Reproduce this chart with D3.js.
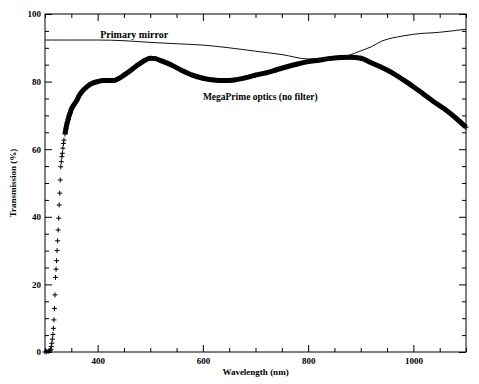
<!DOCTYPE html>
<html>
<head>
<meta charset="utf-8">
<script src="https://cdn.jsdelivr.net/npm/d3@7"></script>
<style>
  body { margin: 0; background: #fff; }
  text { font-family: "Liberation Serif", serif; font-weight: bold; fill: #000; }
</style>
</head>
<body>
<div id="chart"></div>
<script>
// MegaPrime optics (no filter), plotted with "+" symbols
const megaWavelength = [300, 303, 306, 308, 310,
  311, 312, 313, 314, 315, 316, 317, 318, 319, 320, 321, 322, 323, 324, 325,
  326, 327, 328, 329, 330, 331, 332, 333, 334, 335,
  336, 338, 340, 342, 344, 346, 348, 350, 352, 355, 360, 365, 370, 380, 390,
  400, 410, 420, 430, 440, 450, 460, 470, 480, 490, 500, 510, 520, 540, 560, 580,
  600, 620, 640, 660, 680, 700, 720, 740, 760, 780, 800, 820, 840, 860, 880,
  900, 920, 940, 960, 980, 1000, 1020, 1040, 1060, 1080, 1100];
const megaTransmission = [0.0, 0.1, 0.2, 0.35, 0.5,
  0.8, 1.6, 2.6, 3.8, 5.2, 7.0, 9.5, 12.9, 16.9, 22.1, 24.5, 27.0, 30.0, 32.9, 36.1,
  39.6, 43.5, 47.0, 50.9, 54.8, 56.3, 57.8, 58.8, 60.3, 61.7,
  62.7, 64.5, 66.2, 67.7, 68.8, 70.0, 70.8, 71.8, 72.4, 73.2, 74.3, 75.9, 77.0, 78.5, 79.5,
  80.0, 80.3, 80.3, 80.3, 80.9, 81.9, 83.0, 84.2, 85.3, 86.3, 86.9, 86.8, 86.2, 84.9, 83.3, 81.9,
  81.0, 80.5, 80.3, 80.5, 81.1, 81.9, 82.6, 83.5, 84.4, 85.2, 85.9, 86.3, 86.8, 87.1, 87.2,
  86.9, 85.6, 84.2, 82.6, 80.6, 78.5, 76.2, 73.9, 71.8, 69.3, 66.5];

// Primary mirror
const mirrorWavelength = [300, 350, 400, 450, 500, 550, 600, 650, 700, 750, 800, 850,
  880, 900, 920, 940, 960, 980, 1000, 1050, 1100];
const mirrorTransmission = [92.3, 92.3, 92.3, 92.1, 91.6, 91.2, 90.8, 90.0, 89.0, 88.0, 86.7, 86.9,
  87.9, 89.1, 90.3, 92.0, 92.9, 93.5, 94.0, 94.6, 95.5];

const xMajor = [400, 600, 800, 1000];
const yMajor = [0, 20, 40, 60, 80, 100];

const margin = {top: 14, right: 13, bottom: 32, left: 45};
const width = 479 - margin.left - margin.right;
const height = 384 - margin.top - margin.bottom;

const svg = d3.select("#chart")
  .append("svg")
  .attr("width", 479)
  .attr("height", 384)
  .append("g")
  .attr("transform", `translate(${margin.left},${margin.top})`);

const x = d3.scaleLinear().domain([300, 1100]).range([0, width]);
const y = d3.scaleLinear().domain([0, 100]).range([height, 0]);

const xMinor = d3.range(300, 1101, 50).filter(d => !xMajor.includes(d));
const yMinor = d3.range(0, 101, 5).filter(d => !yMajor.includes(d));

function clean(g) {
  g.select(".domain").remove();
  g.selectAll("line").attr("stroke", "#000");
}

// bottom
svg.append("g").attr("transform", `translate(0,${height})`)
  .call(d3.axisBottom(x).tickValues(xMajor).tickSize(-7).tickPadding(6).tickFormat(d3.format("d")))
  .call(clean)
  .selectAll("text").style("font-size", "9px");
svg.append("g").attr("transform", `translate(0,${height})`)
  .call(d3.axisBottom(x).tickValues(xMinor).tickSize(-4).tickFormat(""))
  .call(clean);
// top
svg.append("g")
  .call(d3.axisTop(x).tickValues(xMajor).tickSize(-7).tickFormat(""))
  .call(clean);
svg.append("g")
  .call(d3.axisTop(x).tickValues(xMinor).tickSize(-4).tickFormat(""))
  .call(clean);
// left
svg.append("g")
  .call(d3.axisLeft(y).tickValues(yMajor).tickSize(-7).tickPadding(4).tickFormat(d3.format("d")))
  .call(clean)
  .selectAll("text").style("font-size", "9px");
svg.append("g")
  .call(d3.axisLeft(y).tickValues(yMinor).tickSize(-4).tickFormat(""))
  .call(clean);
// right
svg.append("g").attr("transform", `translate(${width},0)`)
  .call(d3.axisRight(y).tickValues(yMajor).tickSize(-7).tickFormat(""))
  .call(clean);
svg.append("g").attr("transform", `translate(${width},0)`)
  .call(d3.axisRight(y).tickValues(yMinor).tickSize(-4).tickFormat(""))
  .call(clean);

svg.append("rect")
  .attr("width", width)
  .attr("height", height)
  .attr("fill", "none")
  .attr("stroke", "#000")
  .attr("stroke-width", 1);

const mega = megaWavelength.map((w, i) => ({w: w, v: megaTransmission[i]}));
const mirror = mirrorWavelength.map((w, i) => ({w: w, v: mirrorTransmission[i]}));

const line = d3.line()
  .x(d => x(d.w))
  .y(d => y(d.v))
  .curve(d3.curveMonotoneX);

// dense part of the + symbols merges into a thick band
svg.append("path")
  .datum(mega.filter(d => d.w >= 337))
  .attr("fill", "none")
  .attr("stroke", "#000")
  .attr("stroke-width", 5)
  .attr("stroke-linejoin", "round")
  .attr("d", line);

svg.append("g")
  .selectAll("path")
  .data(mega)
  .join("path")
  .attr("transform", d => `translate(${x(d.w)},${y(d.v)})`)
  .attr("d", "M-2.5,0H2.5M0,-2.5V2.5")
  .attr("stroke", "#000")
  .attr("stroke-width", 1);

svg.append("path")
  .datum(mirror)
  .attr("fill", "none")
  .attr("stroke", "#111")
  .attr("stroke-width", 1)
  .attr("d", line);

svg.append("text")
  .attr("x", x(405))
  .attr("y", 24)
  .style("font-size", "10px")
  .text("Primary mirror");

svg.append("text")
  .attr("x", x(600))
  .attr("y", 86)
  .style("font-size", "9.5px")
  .text("MegaPrime optics (no filter)");

svg.append("text")
  .attr("x", width / 2)
  .attr("y", height + 23)
  .attr("text-anchor", "middle")
  .style("font-size", "9px")
  .text("Wavelength (nm)");

svg.append("text")
  .attr("transform", `translate(${16 - margin.left},${height / 2}) rotate(-90)`)
  .attr("text-anchor", "middle")
  .style("font-size", "9px")
  .text("Transmission (%)");
</script>
</body>
</html>
